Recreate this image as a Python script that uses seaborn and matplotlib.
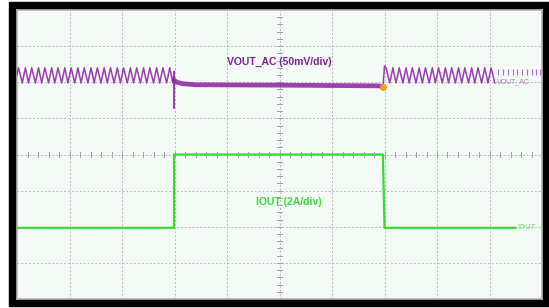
import numpy as np
import pandas as pd
import matplotlib
matplotlib.use("Agg")
import matplotlib.pyplot as plt
from matplotlib.patches import Rectangle
import seaborn as sb

# screen divisions: x 0..10, y -4..4
# VOUT ripple before load step (peak / trough times in div)
left_peaks = [0.03, 0.16, 0.28, 0.41, 0.53, 0.66, 0.78, 0.91, 1.03, 1.16, 1.28, 1.41,
              1.53, 1.66, 1.78, 1.91, 2.03, 2.16, 2.28, 2.41, 2.53, 2.66, 2.78, 2.91]
left_troughs = [0.10, 0.22, 0.35, 0.47, 0.60, 0.72, 0.85, 0.97, 1.10, 1.22, 1.35, 1.47,
                1.60, 1.72, 1.85, 1.97, 2.10, 2.22, 2.35, 2.47, 2.60, 2.72, 2.85, 2.97]
# VOUT ripple after load release
right_peaks = [7.03, 7.16, 7.28, 7.41, 7.53, 7.66, 7.78, 7.91, 8.03, 8.16, 8.28, 8.41,
               8.53, 8.66, 8.78, 8.91, 9.03]
right_troughs = [7.10, 7.22, 7.35, 7.47, 7.60, 7.72, 7.85, 7.97, 8.10, 8.22, 8.35, 8.47,
                 8.60, 8.72, 8.85, 8.97, 9.10]
ripple_hi = 2.40
ripple_lo = 1.98

# VOUT during load (step transient + flat part)
spike_t = [2.99, 2.99, 3.00]
spike_v = [2.30, 1.28, 2.05]
load_t = [3.00, 3.05, 3.15, 3.40, 5.00, 6.90, 6.97]
load_v = [2.05, 2.00, 1.96, 1.93, 1.92, 1.90, 1.86]
release_t = [6.97, 7.00]
release_v = [1.86, 2.45]
dot_t, dot_v = 6.97, 1.86
tail_ticks = [9.17, 9.26, 9.35, 9.44, 9.53, 9.62, 9.71, 9.80, 9.89, 9.96]

# IOUT
iout_t = [0.00, 2.99, 2.99, 6.97, 7.00, 9.49]
iout_v = [-2.03, -2.03, 0.00, 0.00, -2.03, -2.03]

purple = "#8a1fa3"
green = "#35dc35"

fig = plt.figure(figsize=(5.49, 3.08), dpi=100)
fig.patch.set_facecolor("white")
frame = Rectangle((9 / 549, 2 / 308), 540 / 549, 304 / 308,
                  transform=fig.transFigure, color="black", zorder=-10)
fig.add_artist(frame)
ax = fig.add_axes([17 / 549, 9 / 308, 525 / 549, 289 / 308])
ax.set_facecolor("#f4faf6")
ax.set_xlim(0, 10)
ax.set_ylim(-4, 4)
for s in ax.spines.values():
    s.set_color("#b5b5b5")
    s.set_linewidth(1.2)
ax.set_xticks([])
ax.set_yticks([])

# graticule
for gx in range(1, 10):
    ax.axvline(gx, color="#b8b8b8", lw=0.7, ls=(0, (2, 2)), zorder=1)
for gy in range(-3, 4):
    ax.axhline(gy, color="#b8b8b8", lw=0.7, ls=(0, (2, 2)), zorder=1)
for tx in np.arange(0.2, 10, 0.2):
    ax.plot([tx, tx], [-0.06, 0.06], color="#a0a0a0", lw=0.7, zorder=1)
for ty in np.arange(-3.8, 4, 0.2):
    ax.plot([4.96, 5.04], [ty, ty], color="#a0a0a0", lw=0.7, zorder=1)


def ripple(peaks, troughs):
    pts = sorted([(t, ripple_hi) for t in peaks] + [(t, ripple_lo) for t in troughs])
    return pd.DataFrame(pts, columns=["t", "v"])


left = ripple(left_peaks, left_troughs)
left = pd.concat([pd.DataFrame({"t": [0.0], "v": [2.2]}), left,
                  pd.DataFrame({"t": spike_t, "v": spike_v})])
right = pd.concat([pd.DataFrame({"t": release_t, "v": release_v}),
                   ripple(right_peaks, right_troughs)])
load = pd.DataFrame({"t": load_t, "v": load_v})
iout = pd.DataFrame({"t": iout_t, "v": iout_v})

kw = dict(x="t", y="v", estimator=None, sort=False, ax=ax)
sb.lineplot(data=iout, color=green, lw=1.6, zorder=3, **kw)
sb.lineplot(data=left, color=purple, lw=1.1, alpha=0.85, zorder=3, **kw)
sb.lineplot(data=load, color=purple, lw=3.4, alpha=0.85, zorder=3, **kw)
sb.lineplot(data=right, color=purple, lw=1.1, alpha=0.85, zorder=3, **kw)
sb.scatterplot(x=tail_ticks, y=[2.28] * len(tail_ticks), marker="|", s=14,
               color="#b06cc4", linewidth=0.8, ax=ax, zorder=3)
ax.plot(dot_t, dot_v, "o", color="#f59a1a", ms=4, zorder=4)

ax.text(5.0, 2.55, "VOUT_AC (50mV/div)", color="#7b2290", fontsize=7.5,
        fontweight="bold", family="Liberation Sans", ha="center", va="center")
ax.text(5.17, -1.32, "IOUT (2A/div)", color=green, fontsize=7.5,
        fontweight="bold", family="Liberation Sans", ha="center", va="center")
ax.text(9.14, 2.0, "VOUT_AC", color="#b27ac0", fontsize=5,
        family="Liberation Sans", ha="left", va="center")
ax.text(9.52, -2.03, "IOUT", color="#6ad86a", fontsize=5.5,
        family="Liberation Sans", ha="left", va="center")
ax.set_xlabel("")
ax.set_ylabel("")
if ax.get_legend():
    ax.get_legend().remove()

fig.savefig("out.png", dpi=100, facecolor="white")
